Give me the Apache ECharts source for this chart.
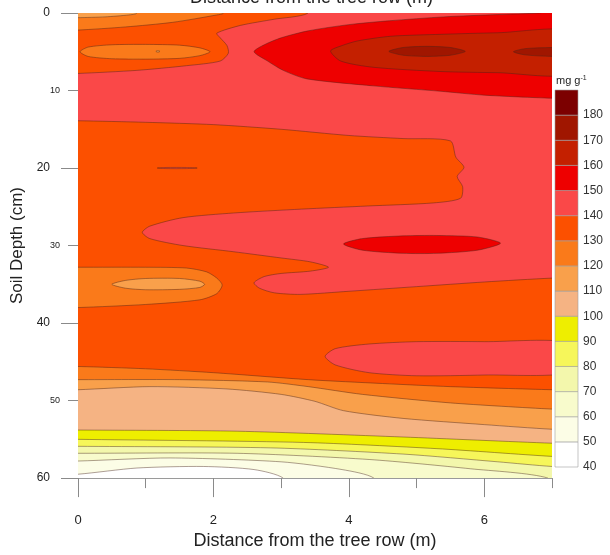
<!DOCTYPE html>
<html><head><meta charset="utf-8">
<script src="https://cdn.jsdelivr.net/npm/echarts@6/dist/echarts.min.js"></script>
<style>html,body{margin:0;padding:0;background:#fff}#c{width:610px;height:555px}</style>
</head><body><div id="c"></div>
<script>
// ---- colour scale (band lower bounds, mg g-1) ----
const levels = [40,50,60,70,80,90,100,110,120,130,140,150,160,170,180];
const levelColors = ['#ffffff','#fcfde6','#f8fbcc','#f3f7ac','#f6f65a','#eeee00','#f5b383','#f9a04b','#fa7a1a','#fc5000','#fa4848','#ee0000','#c42000','#a01600','#7c0000'];
const cbTickValues = [40,50,60,70,80,90,100,110,120,130,140,150,160,170,180];
const xMinorTicks = [0,1,2,3,4,5,6,7];
const xTickLabels = [0,2,4,6];
const yMinorTicks = [0,10,20,30,40,50,60];
const yMajorTicks = [0,20,40,60];

// ---- contour regions: [distance (m), depth (cm)] ----
const base130 = [[-0.3,-2],[7.3,-2],[7.3,62],[-0.3,62]];
const top120 = [[-0.3,-2],[2.25,-2],[2.15,0],[2.05,0.25],[1.4,1.2],[0.7,1.8],[0,2.2],[-0.3,2.2]];
const top110 = [[-0.3,-2],[0.95,-2],[0.87,0],[0.75,0.25],[0.4,0.5],[0,0.6],[-0.3,0.6]];
const ell120 = [[0.03,5.0],[0.15,4.4],[0.5,4.1],[1.0,4.05],[1.5,4.15],[1.8,4.5],[1.95,5.0],[1.8,5.5],[1.5,5.85],[1.0,5.95],[0.5,5.9],[0.15,5.6]];
const dot110 = [[1.15,4.95],[1.18,4.85],[1.21,4.95],[1.18,5.05]];
const pink140 = [[-0.3,7.8],[0,7.8],[0.87,7.4],[1.6,6.8],[2.1,6.2],[2.22,5.2],[2.2,4.2],[2.1,3.2],[2.05,2.6],[2.4,1.6],[2.9,0.8],[3.39,0.05],[3.5,-2],[7.3,-2],[7.3,34.2],[7,34.2],[6,34.7],[5,35.3],[4,35.9],[3.28,36.3],[2.9,36.1],[2.68,35.5],[2.6,34.8],[2.75,34.0],[3.0,33.6],[3.43,33.3],[3.7,32.8],[3.43,32.1],[3.0,31.6],[2.3,30.8],[1.55,30.0],[1.06,29.1],[0.95,28.3],[1.06,27.5],[1.55,26.4],[2.3,25.8],[3.3,25.3],[4.27,24.9],[5.25,24.5],[5.65,23.9],[5.68,22.4],[5.6,21.1],[5.7,19.9],[5.58,18.6],[5.5,16.5],[4.8,16.2],[4.0,15.8],[3.0,15.0],[2.0,14.4],[1.0,14.1],[0,13.9],[-0.3,13.9]];
const sliver140 = [[1.17,20],[1.3,19.93],[1.6,19.93],[1.76,20],[1.6,20.07],[1.3,20.07]];
const red150Top = [[2.6,5.0],[2.75,4.1],[3.0,3.2],[3.4,2.3],[4.0,1.5],[4.6,1.0],[5.4,0.5],[6.2,0.2],[6.8,0],[7.3,-0.5],[7.3,11.0],[7.0,11.0],[6.0,10.6],[5.36,10.1],[4.36,9.4],[3.38,8.5],[3.03,7.4],[2.8,6.2]];
const dred160 = [[3.73,4.9],[3.9,4.2],[4.13,3.6],[4.62,3.0],[5.36,2.75],[6.2,2.55],[7.3,2.4],[7.3,7.8],[6.2,7.7],[5.36,7.55],[4.36,7.0],[3.88,6.2]];
const core170a = [[4.59,4.95],[4.8,4.45],[5.15,4.3],[5.5,4.45],[5.72,4.95],[5.5,5.45],[5.15,5.6],[4.8,5.45]];
const core170b = [[6.43,5.0],[6.6,4.6],[7.0,4.45],[7.3,4.5],[7.3,5.5],[7.0,5.6],[6.6,5.4]];
const red150Mid = [[3.92,29.8],[4.2,29.1],[4.8,28.75],[5.3,28.7],[5.9,28.9],[6.24,29.7],[5.9,30.6],[5.3,31.0],[4.8,31.0],[4.2,30.6]];
const orange120Mid = [[-0.3,32.8],[0,32.8],[1.0,32.8],[1.6,32.9],[1.9,33.4],[2.05,34.2],[2.13,35.1],[2.05,36.2],[1.8,37.0],[1.0,37.6],[0,38.0],[-0.3,38.0]];
const lorange110Mid = [[0.5,35.0],[0.7,34.5],[1.0,34.25],[1.5,34.25],[1.8,34.6],[1.87,35.0],[1.8,35.4],[1.5,35.65],[1.0,35.7],[0.7,35.5]];
const pink140Low = [[3.65,44.3],[3.8,43.3],[4.3,42.7],[5,42.4],[6,42.4],[7.3,42.6],[7.3,46.3],[6,46.7],[5,46.8],[4.3,46.4],[3.8,45.4]];
// lower iso-lines (value falls below the level under each line)
const line130 = [[0,45.6],[1,45.9],[2,46.4],[3.4,47.3],[4.5,47.8],[5.5,48.2],[7,48.6]];
const line120 = [[0,47.3],[1.5,47.3],[2.8,47.6],[3.4,48.2],[4.2,49.2],[5.5,50.3],[7,51.1]];
const line110 = [[0,48.6],[1.06,48.2],[2.2,48.5],[3.0,49.2],[3.5,50.1],[3.92,51.3],[4.8,52.3],[6,53.1],[7,53.7]];
const line100 = [[0,53.8],[2.35,53.95],[4.8,54.7],[7,55.5]];
const line90 = [[0,55.0],[3.33,55.4],[5.3,56.2],[7,57.2]];
const line80 = [[0,55.9],[2.84,56.1],[4.8,56.9],[6.2,57.9],[7,58.5]];
const line70 = [[0,56.8],[2.35,56.8],[4.3,57.6],[5.8,58.8],[6.94,60]];
const line60 = [[0,57.8],[1.36,57.4],[3.0,57.9],[3.9,58.9],[4.37,60]];
const line50 = [[0,59.5],[0.87,58.7],[1.85,58.5],[2.6,58.9],[3.03,60]];

function below(line){
  const first = line[0], last = line[line.length-1];
  const pts = [[-0.3, first[1]]].concat(line);
  if (last[0] >= 7) { pts.push([7.3, last[1]]); pts.push([7.3, 62]); }
  else { pts.push([last[0]+0.03, 62]); }
  pts.push([-0.3, 62]);
  return pts;
}

const layers = [
  {level:130, pts:base130},
  {level:120, pts:top120},
  {level:110, pts:top110},
  {level:120, pts:ell120},
  {level:110, pts:dot110},
  {level:140, pts:pink140},
  {level:140, pts:sliver140},
  {level:150, pts:red150Top},
  {level:160, pts:dred160},
  {level:170, pts:core170a},
  {level:170, pts:core170b},
  {level:150, pts:red150Mid},
  {level:120, pts:orange120Mid},
  {level:110, pts:lorange110Mid},
  {level:140, pts:pink140Low},
  {level:120, pts:below(line130)},
  {level:110, pts:below(line120)},
  {level:100, pts:below(line110)},
  {level:90, pts:below(line100)},
  {level:80, pts:below(line90)},
  {level:70, pts:below(line80)},
  {level:60, pts:below(line70)},
  {level:50, pts:below(line60)},
  {level:40, pts:below(line50)}
];
function colorOf(l){ return levelColors[levels.indexOf(l)]; }

const chart = echarts.init(document.getElementById('c'), null, {renderer:'canvas'});
const FONT = 'Liberation Sans, Arial, sans-serif';
const option = {
  animation:false,
  backgroundColor:'#ffffff',
  textStyle:{fontFamily:FONT},
  grid:[
    {left:78, top:13, width:474, height:474},
    {left:555, top:90, width:23, height:377}
  ],
  graphic:[
    {type:'text', left:190, top:-11, style:{text:'Distance from the tree row (m)', font:'18px '+FONT, fill:'#222'}},
    {type:'text', left:556, top:75, style:{text:'mg g{s|-1}', rich:{s:{fontSize:7, verticalAlign:'top', padding:[0,0,5,0], fill:'#222'}}, font:'11px '+FONT, fill:'#222'}}
  ],
  xAxis:[
    {gridIndex:0, type:'value', min:0, max:7, interval:1, position:'bottom', axisLine:{show:true, onZero:false, lineStyle:{color:'#9a9a9a'}},
      axisTick:{length:10, customValues:xMinorTicks, lineStyle:{color:'#8a8a8a'}}, axisLabel:{show:false}, splitLine:{show:false}},
    {gridIndex:0, type:'value', min:0, max:7, interval:1, position:'bottom', axisLine:{show:false, onZero:false},
      axisTick:{length:19, customValues:xTickLabels, lineStyle:{color:'#8a8a8a'}},
      axisLabel:{margin:36, fontSize:13, color:'#222', customValues:xTickLabels}, splitLine:{show:false},
      name:'Distance from the tree row (m)', nameLocation:'middle', nameGap:49, nameTextStyle:{fontSize:18, color:'#222'}},
    {gridIndex:1, type:'value', min:0, max:1, show:false}
  ],
  yAxis:[
    {gridIndex:0, type:'value', inverse:true, min:0, max:60, interval:10, position:'left', axisLine:{show:false, onZero:false},
      axisTick:{show:true, length:10, customValues:yMinorTicks, lineStyle:{color:'#8a8a8a'}},
      axisLabel:{margin:18, color:'#222', customValues:yMinorTicks, formatter:v => (v%20===0 ? '{a|'+v+'}' : '{b|'+v+'}'),
        rich:{a:{fontSize:12, color:'#222', padding:[0,10,0,0]}, b:{fontSize:9, color:'#222'}}}, splitLine:{show:false},
      name:'Soil Depth (cm)', nameLocation:'middle', nameGap:43, nameTextStyle:{fontSize:17, color:'#222'}},
    {gridIndex:0, type:'value', inverse:true, min:0, max:60, interval:10, position:'left', axisLine:{show:false, onZero:false},
      axisTick:{show:true, length:17, customValues:yMajorTicks, lineStyle:{color:'#8a8a8a'}}, axisLabel:{show:false}, splitLine:{show:false}},
    {gridIndex:1, type:'value', min:40, max:190, interval:10, position:'right', axisLine:{show:false}, axisTick:{show:false}, splitLine:{show:false},
      axisLabel:{margin:5, fontSize:12, color:'#333', customValues:cbTickValues}}
  ],
  series:[
    {type:'custom', xAxisIndex:0, yAxisIndex:0, clip:true, silent:true,
      data: layers.map(l => [l.pts[0][0], l.pts[0][1]]),
      renderItem:function(params, api){
        const layer = layers[params.dataIndex];
        const pts = layer.pts.map(p => api.coord([p[0], p[1]]));
        return {type:'polygon', shape:{points:pts, smooth:0.25},
          style:{fill:colorOf(layer.level), stroke:'rgba(70,35,25,0.55)', lineWidth:0.8}};
      }},
    {type:'custom', xAxisIndex:2, yAxisIndex:2, silent:true,
      data: levels.map(l => [0, l]),
      renderItem:function(params, api){
        const l = levels[params.dataIndex];
        const p0 = api.coord([0, l]);
        const p1 = api.coord([1, l+10]);
        return {type:'rect', shape:{x:p0[0], y:p1[1], width:p1[0]-p0[0], height:p0[1]-p1[1]},
          style:{fill:levelColors[params.dataIndex], stroke:'#a0a0a0', lineWidth:0.6}};
      }}
  ]
};
chart.setOption(option);
</script>
</body></html>
